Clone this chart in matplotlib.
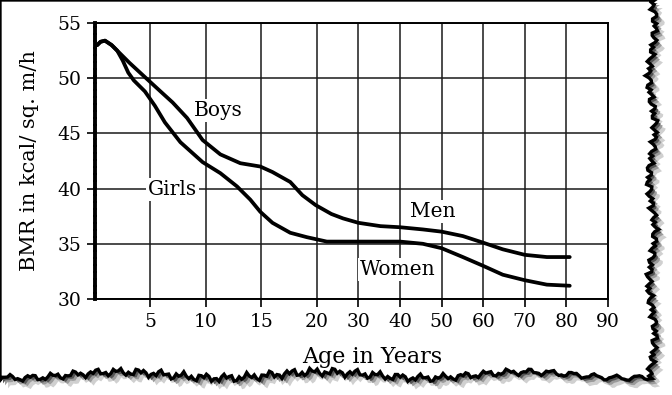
import numpy as np
import matplotlib
matplotlib.use("Agg")
import matplotlib.pyplot as plt
from matplotlib.patches import Polygon

# values
boys_men_age = [0.2, 0.5, 0.9, 1.5, 2.2, 3.1, 4.5, 5.8, 7.0, 8.3, 9.7, 11.3, 13.1, 14.9,
                16.0, 17.6, 18.7, 19.9, 23.5, 26.3, 30, 35.3, 40, 45.5, 50, 55.1, 60,
                64.7, 70, 75.3, 80.8]
boys_men_bmr = [53.0, 53.3, 53.4, 53.0, 52.3, 51.4, 50.1, 48.9, 47.8, 46.4, 44.4, 43.1, 42.3, 42.0,
                41.5, 40.6, 39.4, 38.5, 37.7, 37.3, 36.9, 36.6, 36.5, 36.3, 36.1, 35.7, 35.1,
                34.5, 34.0, 33.8, 33.8]

girls_women_age = [0.2, 0.5, 0.9, 1.5, 2.0, 2.5, 3.0, 3.5, 4.5, 5.4, 6.3, 7.7, 9.7, 11.3, 12.8,
                   14.0, 14.9, 16.0, 17.6, 19.1, 22.4, 30, 40, 45.5, 50, 55.1, 60, 64.7,
                   70, 75.3, 80.8]
girls_women_bmr = [53.0, 53.3, 53.4, 53.0, 52.5, 51.6, 50.5, 49.8, 48.8, 47.5, 46.0, 44.2, 42.4, 41.4, 40.2,
                   39.0, 37.9, 36.9, 36.0, 35.6, 35.2, 35.2, 35.2, 35.0, 34.6, 33.8, 33.0, 32.2,
                   31.7, 31.3, 31.2]

x_ticks = [5, 10, 15, 20, 30, 40, 50, 60, 70, 80, 90]
y_ticks = [30, 35, 40, 45, 50, 55]

# curve labels: text, age, bmr
labels = [("Boys", 11.1, 47.1), ("Girls", 7.0, 39.9), ("Men", 47.9, 37.9), ("Women", 39.5, 32.7)]


# the age axis is stretched below 20 years
def fwd(x):
    return np.interp(x, [0, 20, 90], [0, 20, 46.25])


def inv(u):
    return np.interp(u, [0, 20, 46.25], [0, 20, 90])


plt.rcParams['font.family'] = ['DejaVu Serif']

fig = plt.figure(figsize=(6.72, 3.95), dpi=100)
fig.patch.set_facecolor("white")

# torn paper edge with a shadow (decoration only)
W, H = 672.0, 395.0
ys = np.linspace(0, 376, 160)
right = (652 + 3 * np.sin(ys * 0.061) + 2.0 * np.sin(ys * 0.47 + 1) + 1.6 * np.sin(ys * 1.9)
         + 1.2 * np.sin(ys * 3.7 + 2))
xs = np.linspace(652, 0, 260)
bottom = (375 + 3 * np.sin(xs * 0.031 + 1) + 2.2 * np.sin(xs * 0.29 + 2) + 1.5 * np.sin(xs * 1.7)
          + 1.0 * np.sin(xs * 3.3 + 1))
pts = [(0, 0), (652, 0)] + list(zip(right, ys)) + list(zip(xs, bottom)) + [(0, 0)]
pts = np.array(pts)
for off, col in [(8, "#d0d0d0"), (5, "#9a9a9a"), (3, "#555555")]:
    sh = Polygon(np.column_stack([(pts[:, 0] + off) / W, 1 - (pts[:, 1] + off) / H]),
                 closed=True, facecolor=col, edgecolor="none",
                 transform=fig.transFigure, zorder=-3)
    fig.add_artist(sh)
paper = Polygon(np.column_stack([pts[:, 0] / W, 1 - pts[:, 1] / H]),
                closed=True, facecolor="white", edgecolor="black", lw=2.4,
                transform=fig.transFigure, zorder=-2)
fig.add_artist(paper)

ax = fig.add_axes([95 / W, 1 - 299 / H, 513 / W, 276 / H])
ax.set_xscale('function', functions=(fwd, inv))
ax.set_xlim(0, 90)
ax.set_ylim(30, 55)

ax.plot(boys_men_age, boys_men_bmr, color="black", lw=2.7, solid_capstyle="round",
        solid_joinstyle="round", zorder=3)
ax.plot(girls_women_age, girls_women_bmr, color="black", lw=2.7, solid_capstyle="round",
        solid_joinstyle="round", zorder=3)

for txt, a, b in labels:
    ax.text(a, b, txt, fontsize=14.5, ha="center", va="center", zorder=4,
            bbox=dict(facecolor="white", edgecolor="none", pad=1.5))

ax.set_xticks(x_ticks)
ax.set_xticklabels([str(t) for t in x_ticks])
ax.set_yticks(y_ticks)
ax.set_yticklabels([str(t) for t in y_ticks])
ax.tick_params(axis="both", direction="out", length=6, width=1.2, labelsize=13.5, color="black")
ax.tick_params(axis="x", pad=4)
ax.tick_params(axis="y", pad=4)
ax.grid(True, color="#1a1a1a", lw=1.1)
ax.set_axisbelow(True)

for s in ["top", "right", "bottom"]:
    ax.spines[s].set_linewidth(1.4)
ax.spines["left"].set_linewidth(2.8)
ax.spines["left"].set_linestyle((0, (1.2, 0.6)))

ax.set_xlabel("Age in Years", fontsize=16)
ax.xaxis.set_label_coords(0.54, -0.17)
ax.set_ylabel("BMR in kcal/ sq. m/h", fontsize=15)
ax.yaxis.set_label_coords(-0.11, 0.5)

fig.savefig("out.png", dpi=100)
